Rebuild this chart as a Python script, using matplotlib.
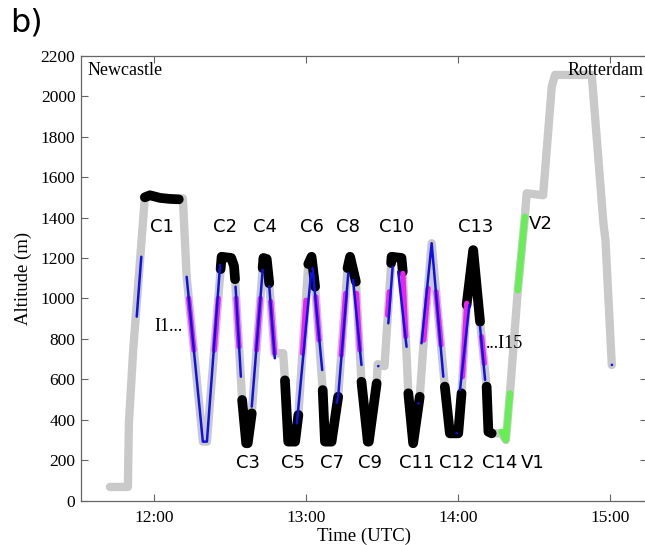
import numpy as np
import matplotlib
matplotlib.use("Agg")
import matplotlib.pyplot as plt

# ---------------- data (time in minutes after 00:00 UTC, altitude in m) ----------------
track_t = [702.6, 709.7, 710.1, 711.8, 716.4, 718.4, 722.4, 726.3, 730.3, 731.4,
           732.9, 739.3, 740.9, 746.7, 750.5, 751.6, 752.0, 754.8, 756.4, 757.0,
           758.6, 763.2, 764.5, 765.5, 767.6, 771.0, 771.7, 773.0, 775.7, 777.0,
           780.9, 782.2, 783.6, 786.6, 787.5, 790.1, 792.7, 796.4, 797.4, 799.7,
           801.9, 804.4, 804.8, 807.9, 808.3, 811.0, 813.8, 817.7, 818.2, 820.4,
           822.3, 824.9, 826.3, 829.6, 834.8, 836.8, 840.1, 841.4, 843.4, 846.0,
           848.7, 851.3, 852.0, 853.3, 857.2, 858.9, 860.5, 863.6, 866.4, 867.1,
           873.6, 877.0, 878.3, 892.8, 897.4, 898.2, 900.7]
track_alt = [68, 68, 384, 745, 1500, 1510, 1497, 1492, 1490, 1495,
             1107, 292, 292, 1206, 1200, 1160, 1095, 498, 284, 284,
             432, 1200, 1195, 1075, 729, 729, 595, 292, 292, 424,
             1170, 1206, 1058, 547, 292, 292, 514, 1150, 1206, 1083,
             588, 292, 292, 580, 675, 665, 1206, 1200, 1132, 531,
             284, 514, 761, 1273, 564, 333, 333, 531, 968, 1239,
             885, 564, 341, 333, 333, 300, 531, 1040, 1404, 1520,
             1510, 2047, 2105, 2105, 1371, 1290, 671]

# circles (black)
circle_C1 = [(716.4, 1500), (718.4, 1510), (722.4, 1497), (726.3, 1492), (729.8, 1490)]
circle_C2 = [(746.3, 1145), (746.7, 1206), (750.5, 1200), (751.6, 1160), (752.0, 1095)]
circle_C3 = [(754.8, 498), (756.4, 284), (757.0, 284), (758.6, 432)]
circle_C4 = [(762.9, 1150), (763.2, 1200), (764.5, 1195), (765.5, 1075)]
circle_C5 = [(771.7, 595), (773.0, 292), (775.7, 292), (777.0, 424)]
circle_C6 = [(780.9, 1170), (782.2, 1206), (783.6, 1058)]
circle_C7 = [(786.6, 547), (787.5, 292), (790.1, 292), (792.7, 514)]
circle_C8 = [(796.4, 1150), (797.4, 1206), (799.7, 1083)]
circle_C9 = [(801.9, 588), (804.4, 292), (804.8, 292), (807.9, 580)]
circle_C10 = [(813.6, 1175), (813.8, 1206), (817.7, 1200), (818.2, 1132)]
circle_C11 = [(820.4, 531), (822.3, 284), (824.9, 514)]
circle_C12 = [(834.8, 564), (836.8, 333), (840.1, 333), (841.4, 531)]
circle_C13 = [(843.4, 968), (846.0, 1239), (848.7, 885)]
circle_C14 = [(851.3, 564), (852.0, 341), (853.3, 333)]
circles = [circle_C1, circle_C2, circle_C3, circle_C4, circle_C5, circle_C6, circle_C7,
           circle_C8, circle_C9, circle_C10, circle_C11, circle_C12, circle_C13, circle_C14]

# inclined profiles I1..I15 (magenta)
profiles = [
    [(733.7, 1001), (735.75, 744)],
    [(743.8, 744), (745.4, 1001)],
    [(752.44, 1001), (753.57, 761)],
    [(760.47, 745), (762.0, 1001)],
    [(766.05, 985), (767.6, 729)],
    [(778.6, 729), (780.0, 991)],
    [(783.9, 1008), (785.15, 794)],
    [(793.9, 720), (795.67, 1025)],
    [(799.96, 1025), (801.2, 745)],
    [(812.2, 918), (812.9, 1033)],
    [(818.23, 1124), (819.38, 811)],
    [(826.5, 794), (828.2, 1050)],
    [(831.36, 1033), (833.3, 770)],
    [(841.78, 613), (843.44, 976)],
    [(849.3, 811), (850.37, 679)],
]

# second (thin blue) track
blue_segments = [
    [(713.2, 910), (715.0, 1206)],
    [(732.9, 1107), (739.3, 292), (740.9, 292), (746.1, 1165)],
    [(752.2, 1058), (754.3, 613)],
    [(758.6, 465), (762.9, 1141)],
    [(765.5, 1060), (767.7, 704)],
    [(776.4, 383), (782.0, 1124)],
    [(782.6, 1150), (786.4, 646)],
    [(792.1, 484), (792.7, 514), (796.7, 1124)],
    [(798.6, 1091), (801.9, 671)],
    [(808.5, 665), (808.6, 666)],
    [(812.5, 877), (814.2, 1157)],
    [(816.4, 1132), (819.7, 761)],
    [(824.3, 481), (824.4, 482)],
    [(825.6, 778), (829.6, 1273), (834.2, 613)],
    [(839.4, 333), (839.5, 334)],
    [(840.8, 547), (844.5, 968)],
    [(848.7, 860), (850.7, 597)],
    [(900.7, 671), (900.8, 672)],
]

# vertical profiles V1, V2 (green)
vprofiles = [
    [(857.2, 341), (858.9, 300), (860.5, 531)],
    [(863.6, 1040), (866.4, 1404)],
]

# labels
top_labels = ["C1", "C2", "C4", "C6", "C8", "C10", "C13"]
top_label_t = [723.3, 748.0, 763.8, 782.2, 796.7, 815.8, 846.9]
bottom_labels = ["C3", "C5", "C7", "C9", "C11", "C12", "C14", "V1"]
bottom_label_t = [757.3, 775.0, 790.2, 805.2, 823.6, 839.3, 856.3, 869.6]

xticks_h = [12, 13, 14, 15]
xtick_labels = ["12:00", "13:00", "14:00", "15:00"]
yticks = list(range(0, 2201, 200))

# ---------------- plotting ----------------
W, H = 645, 545
fig = plt.figure(figsize=(W / 100, H / 100), dpi=100)
ax = fig.add_axes([81 / W, (H - 500.7) / H, (647 - 81) / W, (500.7 - 55.7) / H])

serif = "Liberation Serif"
sans = "DejaVu Sans"

def hrs(pts):
    a = np.array(pts, dtype=float)
    return a[:, 0] / 60.0, a[:, 1]

common = dict(solid_capstyle="round", solid_joinstyle="round")
ax.plot(np.array(track_t) / 60.0, track_alt, color="#c9c9c9", lw=6.0, zorder=2, **common)
for seg in vprofiles:
    x, y = hrs(seg)
    ax.plot(x, y, color="#66ee55", lw=4.6, zorder=3, **common)
for seg in circles:
    x, y = hrs(seg)
    ax.plot(x, y, color="black", lw=7.0, zorder=4, **common)
for seg in profiles:
    x, y = hrs(seg)
    ax.plot(x, y, color="#ee22ee", lw=3.8, zorder=5, **common)
for seg in blue_segments:
    x, y = hrs(seg)
    ax.plot(x, y, color="#1010ee", lw=1.8, zorder=6, **common)

for lab, t in zip(top_labels, top_label_t):
    ax.text(t / 60.0, 1353, lab, fontsize=13, family=sans, ha="center", va="center")
for lab, t in zip(bottom_labels, bottom_label_t):
    ax.text(t / 60.0, 185, lab, fontsize=13, family=sans, ha="center", va="center")
ax.text(872.5 / 60.0, 1368, "V2", fontsize=13, family=sans, ha="center", va="center")
ax.text(725.6 / 60.0, 863, "I1...", fontsize=13, family=serif, ha="center", va="center")
ax.text(858.4 / 60.0, 775, "...I15", fontsize=13, family=serif, ha="center", va="center")

ax.text(0.012, 0.985, "Newcastle", transform=ax.transAxes, fontsize=13, family=serif,
        ha="left", va="top")
ax.text(0.993, 0.985, "Rotterdam", transform=ax.transAxes, fontsize=13, family=serif,
        ha="right", va="top")

ax.set_xlim(691.2 / 60.0, 914.6 / 60.0)
ax.set_ylim(0, 2200)
ax.set_xticks(xticks_h)
ax.set_xticklabels(xtick_labels)
ax.set_yticks(yticks)
ax.tick_params(direction="in", top=True, right=True, length=5, width=0.8,
               color="#666666", labelsize=12.5, pad=4)
ax.tick_params(axis="x", pad=7)
for lab in ax.get_xticklabels() + ax.get_yticklabels():
    lab.set_family(serif)
for sp in ax.spines.values():
    sp.set_color("#666666")
    sp.set_linewidth(0.9)

ax.set_xlabel("Time (UTC)", fontsize=13.5, family=serif, labelpad=1)
ax.set_ylabel("Altitude (m)", fontsize=13.5, family=serif, labelpad=6)

fig.text(10 / W, 1 - 23 / H, "b)", fontsize=23, family=sans, ha="left", va="center")

fig.savefig("out.png", dpi=100)
